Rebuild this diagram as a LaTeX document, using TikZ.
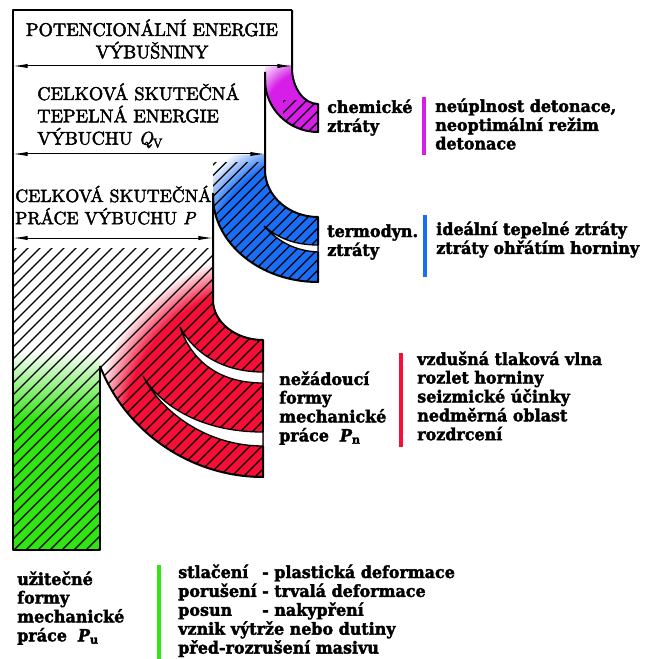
\documentclass[tikz,border=0pt]{standalone}
\usepackage{fontspec}
\newfontfamily\lab{DejaVu Serif Bold}[FakeStretch=0.955,FakeBold=2.2,ItalicFont=DejaVu Serif Bold Italic,ItalicFeatures={FakeBold=2.2}]
\newfontfamily\ttlfont{lmroman10-regular.otf}[FakeBold=2.5,ItalicFont=lmroman10-italic.otf,ItalicFeatures={FakeBold=2.5}]
\usetikzlibrary{arrows.meta}
\definecolor{pu}{RGB}{214,30,232}
\definecolor{bl}{RGB}{25,110,245}
\definecolor{rd}{RGB}{245,15,55}
\definecolor{gr}{RGB}{50,228,20}
\begin{document}
\begin{tikzpicture}[x=0.75pt,y=-0.75pt,
  ol/.style={line width=1.5pt,line join=round},
  hatch/.style={line width=0.95pt,black},
  dim/.style={line width=0.75pt,{Latex[length=11pt,width=3.2pt]}-{Latex[length=11pt,width=3.2pt]}},
  bar/.style={line width=2.4pt},
  crescent/.style={fill=white,draw=black,line width=1pt},
  ttl/.style={inner sep=0pt,font=\ttlfont\fontsize{13.8pt}{13.9pt}\selectfont},
  ttlb/.style={inner sep=0pt,font=\ttlfont\fontsize{13.4pt}{15pt}\selectfont},
  lbl/.style={anchor=base west,inner sep=0pt,font=\lab\fontsize{12.5pt}{13.9pt}\selectfont}]
\useasboundingbox (0,0) rectangle (646,659);
\fill[white] (0,0) rectangle (646,659);

\def\bandP{(265,66) -- (292,66) -- (292,68) .. controls (292,88) and (304,104) .. (318,104) -- (318,132) .. controls (288.8,132) and (265,108.6) .. (265,80) -- cycle}
\def\bandB{(213,155) -- (265,155) -- (265,170) .. controls (265,196) and (289,217) .. (318,217) -- (318,282) .. controls (260,282) and (213,243) .. (213,196) -- cycle}
\def\uni{(13,248) -- (213,248) -- (213,300) .. controls (213,322) and (235.5,340) .. (263,340) -- (263,477) .. controls (191.8,477) and (126,433) .. (100,366) -- (100,550) -- (13,550) -- cycle}

% purple band glow
\begin{scope}
  \clip \bandP;
  \foreach \i in {0,...,20}{\pgfmathtruncatemacro\p{\i*5}\pgfmathsetmacro\r{72-1.2*\i}
    \fill[pu!\p!white] (312,118) circle[radius=\r];}
\end{scope}
% blue band glow
\begin{scope}
  \clip \bandB;
  \foreach \i in {0,...,20}{\pgfmathtruncatemacro\p{\i*5}\pgfmathsetmacro\r{125-1.5*\i}
    \fill[bl!\p!white] (305,255) circle[radius=\r];}
\end{scope}
% red glow and green column
\begin{scope}
  \clip \uni;
  \foreach \i in {0,...,20}{\pgfmathtruncatemacro\p{\i*5}\pgfmathsetmacro\r{178-1.6*\i}
    \fill[rd!\p!white] (270,430) circle[radius=\r];}
  \shade[top color=white,bottom color=gr] (13,350) rectangle (100,420);
  \fill[gr] (13,419) rectangle (100,550);
\end{scope}

% hatching
\begin{scope}
  \clip \uni;
  \foreach \c in {0,12,...,1200}{\draw[hatch] (\c,0) -- (\c-700,700);}
\end{scope}
\begin{scope}
  \clip (200,163) rectangle (330,300);
  \clip \bandB;
  \foreach \c in {0,10.5,...,1100}{\draw[hatch] (\c,0) -- (\c-700,700);}
\end{scope}
\begin{scope}
  \clip (283,101) rectangle (330,140);
  \clip \bandP;
  \foreach \c in {0,11,...,1100}{\draw[hatch] (\c,0) -- (\c-700,700);}
\end{scope}

% splits
\filldraw[crescent] (264,226) .. controls (280,240) and (298,245) .. (318,245) -- (318,252) .. controls (296,251) and (278,242) .. (264,226) -- cycle;
\filldraw[crescent] (180,327) .. controls (195,355) and (225,372) .. (263,372) -- (263,383) .. controls (220,383) and (192,362) .. (180,327) -- cycle;
\filldraw[crescent] (143,376) .. controls (160,405) and (200,432) .. (263,432) -- (263,446) .. controls (205,446) and (160,410) .. (143,376) -- cycle;

% outlines
\draw[ol] (292,10) -- (13,10) -- (13,550) -- (100,550) -- (100,366);
\draw[ol] (292,10) -- (292,68) .. controls (292,88) and (304,104) .. (318,104) -- (318,132) .. controls (288.8,132) and (265,108.6) .. (265,80);
\draw[ol] (265,72) -- (265,170) .. controls (265,196) and (289,217) .. (318,217) -- (318,245);
\draw[ol] (318,252) -- (318,282) .. controls (260,282) and (213,243) .. (213,196);
\draw[ol] (213,193) -- (213,300) .. controls (213,322) and (235.5,340) .. (263,340) -- (263,372);
\draw[ol] (263,383) -- (263,432);
\draw[ol] (263,446) -- (263,477) .. controls (191.8,477) and (126,433) .. (100,366);

% dimension arrows
\coordinate (dL1) at (13,66);  \coordinate (dR1) at (292,66);
\coordinate (dL2) at (13,154); \coordinate (dR2) at (265,154);
\coordinate (dL3) at (13,238); \coordinate (dR3) at (213,238);
\draw[dim] (dL1) -- (dR1);
\draw[dim] (dL2) -- (dR2);
\draw[dim] (dL3) -- (dR3);

% colour bars
\draw[bar,pu] (424,97) -- (424,155);
\draw[bar,bl] (425,215) -- (425,277);
\draw[bar,rd] (401,353) -- (401,447);
\draw[bar,gr] (159,565) -- (159,659);

% titles
\node[ttl,anchor=base] (t1) at (152,36) {\begin{tabular}[t]{@{}c@{}}POTENCIONÁLNÍ ENERGIE\\VÝBUŠNINY\end{tabular}};
\node[ttl,anchor=base west] (t2) at (37,100) {\begin{tabular}[t]{@{}l@{}}CELKOVÁ SKUTEČNÁ\\TEPELNÁ ENERGIE\\VÝBUCHU {\itshape Q}\textsubscript{V}\end{tabular}};
\node[ttlb,anchor=base west] (t3) at (15,202) {\begin{tabular}[t]{@{}l@{}}CELKOVÁ SKUTEČNÁ\\PRÁCE VÝBUCHU {\itshape P}\end{tabular}};

% labels
\node[lbl] (l1) at (327,113) {\begin{tabular}[t]{@{}l@{}}chemické\\ztráty\end{tabular}};
\node[lbl] (r1) at (435,112) {\begin{tabular}[t]{@{}l@{}}neúplnost detonace,\\neoptimální režim\\detonace\end{tabular}};
\node[lbl] (l2) at (327,237) {\begin{tabular}[t]{@{}l@{}}termodyn.\\ztráty\end{tabular}};
\node[lbl] (r2) at (436,235) {\begin{tabular}[t]{@{}l@{}}ideální tepelné ztráty\\ztráty ohřátím horniny\end{tabular}};
\node[lbl] (l3) at (279,385) {\begin{tabular}[t]{@{}l@{}}nežádoucí\\formy\\mechanické\\práce\ \ {\itshape P}\textsubscript{n}\end{tabular}};
\node[lbl] (r3) at (417,365) {\begin{tabular}[t]{@{}l@{}}vzdušná tlaková vlna\\rozlet horniny\\seizmické účinky\\nedměrná oblast\\rozdrcení\end{tabular}};
\node[lbl] (l4) at (17,585) {\begin{tabular}[t]{@{}l@{}}užitečné\\formy\\mechanické\\práce\ \ {\itshape P}\textsubscript{u}\end{tabular}};
\node[lbl] (r4) at (178,578) {\begin{tabular}[t]{@{}l@{ }l@{}}stlačení & - plastická deformace\\porušení & - trvalá deformace\\posun & - nakypření\\\multicolumn{2}{@{}l@{}}{vznik výtrže nebo dutiny}\\\multicolumn{2}{@{}l@{}}{před-rozrušení masivu}\end{tabular}};
\end{tikzpicture}
\end{document}
